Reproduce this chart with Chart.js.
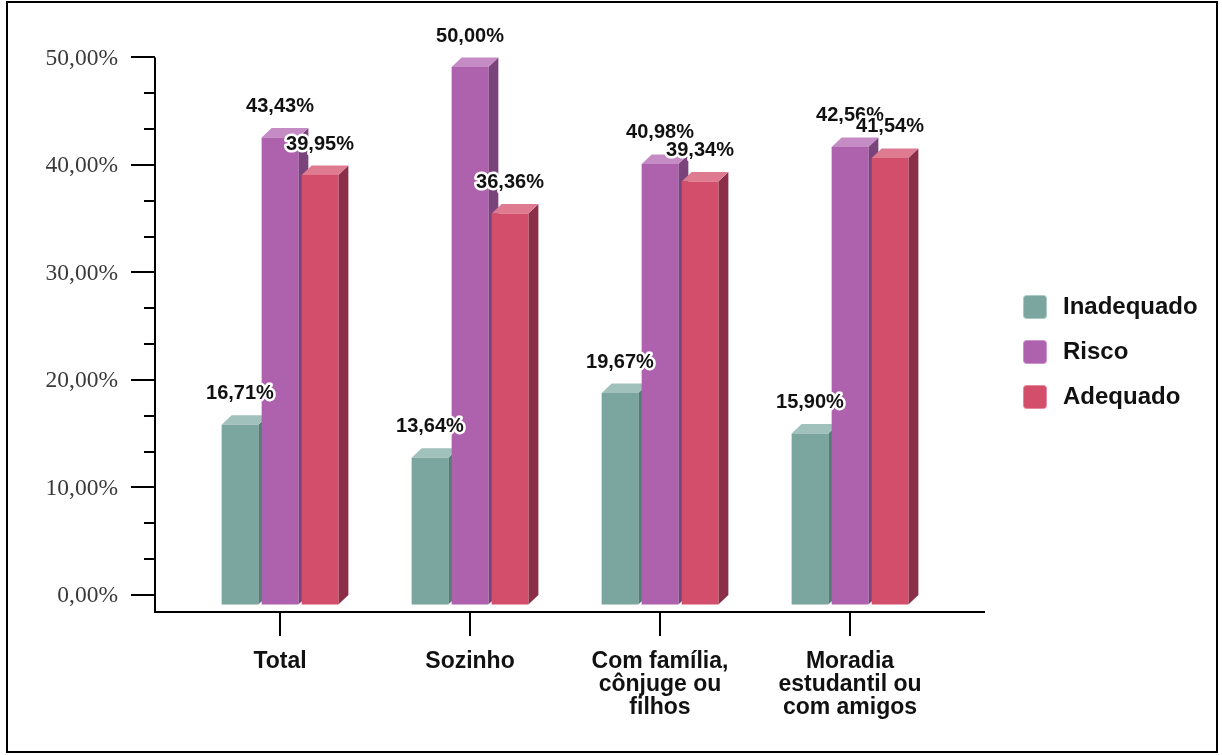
<!DOCTYPE html>
<html lang="pt">
<head>
<meta charset="utf-8">
<title>Inadequado, Risco e Adequado por tipo de moradia</title>
<script src="https://cdn.jsdelivr.net/npm/chart.js@4.4.1/dist/chart.umd.min.js"></script>
<style>
  html, body { margin: 0; padding: 0; background: #fff; }
  #wrap { position: relative; width: 1222px; height: 755px; overflow: hidden; }
  #c { position: absolute; left: 0; top: 0; }
  #frame { position: absolute; left: 6px; top: 1px; width: 1212px; height: 752px;
           border: 2px solid #000; box-sizing: border-box; pointer-events: none; }
</style>
</head>
<body>
<div id="wrap">
  <canvas id="c" width="1222" height="755"></canvas>
  <div id="frame"></div>
</div>
<script>
// Categories (multi-line axis labels)
const categories = [
  ['Total'],
  ['Sozinho'],
  ['Com família,', 'cônjuge ou', 'filhos'],
  ['Moradia', 'estudantil ou', 'com amigos']
];

// Series values (%)
const inadequado = [16.71, 13.64, 19.67, 15.90];
const risco      = [43.43, 50.00, 40.98, 42.56];
const adequado   = [39.95, 36.36, 39.34, 41.54];

const seriesNames = ['Inadequado', 'Risco', 'Adequado'];

// Labelled ticks on the value axis (%), each major step split in thirds by minor ticks
const yTickValues = [0, 10, 20, 30, 40, 50];
const minorPerMajor = 3;

// Face colours for the extruded bars
const palette = [
  { front: '#7BA6A0', top: '#A0C1BC', side: '#557D78', edge: '#A9CBC6' },
  { front: '#AE62AE', top: '#C48BC4', side: '#7A437B', edge: '#CB93CB' },
  { front: '#D34E6B', top: '#DF7B90', side: '#8A2F47', edge: '#E58A9E' }
];

// Oblique depth of the bars
const DEPTH_X = 10;
const DEPTH_Y = 9.5;

const SANS = "'Liberation Sans', Arial, Helvetica, sans-serif";
const SERIF = "'Liberation Serif', 'Times New Roman', serif";

const fmtPct = v => v.toFixed(2).replace('.', ',') + '%';

// Side and top faces, drawn before the library paints the front faces
const extrudePlugin = {
  id: 'extrude',
  beforeDatasetsDraw(chart) {
    const ctx = chart.ctx;
    ctx.save();
    chart.data.datasets.forEach((ds, di) => {
      const pal = palette[di];
      chart.getDatasetMeta(di).data.forEach(bar => {
        const { x, y, base, width } = bar.getProps(['x', 'y', 'base', 'width'], true);
        const l = x - width / 2, r = x + width / 2;
        ctx.fillStyle = pal.side;
        ctx.beginPath();
        ctx.moveTo(r, y);
        ctx.lineTo(r + DEPTH_X, y - DEPTH_Y);
        ctx.lineTo(r + DEPTH_X, base - DEPTH_Y);
        ctx.lineTo(r, base);
        ctx.closePath();
        ctx.fill();
        ctx.fillStyle = pal.top;
        ctx.beginPath();
        ctx.moveTo(l, y);
        ctx.lineTo(l + DEPTH_X, y - DEPTH_Y);
        ctx.lineTo(r + DEPTH_X, y - DEPTH_Y);
        ctx.lineTo(r, y);
        ctx.closePath();
        ctx.fill();
      });
    });
    ctx.restore();
  },
  afterDatasetsDraw(chart) {
    // value labels with a white halo
    const ctx = chart.ctx;
    ctx.save();
    ctx.font = 'bold 20px ' + SANS;
    ctx.textAlign = 'center';
    ctx.textBaseline = 'middle';
    ctx.lineJoin = 'round';
    chart.data.datasets.forEach((ds, di) => {
      chart.getDatasetMeta(di).data.forEach((bar, i) => {
        const { x, y } = bar.getProps(['x', 'y'], true);
        const txt = fmtPct(ds.data[i]);
        const ty = y - 31;
        ctx.strokeStyle = '#fff';
        ctx.lineWidth = 5;
        ctx.strokeText(txt, x, ty);
        ctx.fillStyle = '#111';
        ctx.fillText(txt, x, ty);
      });
    });
    ctx.restore();
  }
};

// Value axis on the back plane plus the floor line and the legend
const axesPlugin = {
  id: 'axesAndLegend',
  afterDraw(chart) {
    const ctx = chart.ctx;
    const ys = chart.scales.y;
    const area = chart.chartArea;
    const axisX = area.left - 30;
    const backY = v => ys.getPixelForValue(v) - DEPTH_Y;
    const top = backY(yTickValues[yTickValues.length - 1]);

    ctx.save();
    ctx.strokeStyle = '#000';
    ctx.lineWidth = 2;
    ctx.beginPath();
    ctx.moveTo(axisX, top);
    ctx.lineTo(axisX, area.bottom);
    ctx.lineTo(area.right + 40, area.bottom);
    ctx.stroke();

    // major and minor ticks
    const step = yTickValues[1] - yTickValues[0];
    for (let j = 0; j < yTickValues.length; j++) {
      const v = yTickValues[j];
      const py = Math.round(backY(v));
      ctx.beginPath();
      ctx.moveTo(axisX - 24, py);
      ctx.lineTo(axisX, py);
      ctx.stroke();
      if (j < yTickValues.length - 1) {
        for (let k = 1; k < minorPerMajor; k++) {
          const my = Math.round(backY(v + step * k / minorPerMajor));
          ctx.beginPath();
          ctx.moveTo(axisX - 11, my);
          ctx.lineTo(axisX, my);
          ctx.stroke();
        }
      }
    }

    ctx.fillStyle = '#3a3a3a';
    ctx.font = '23.5px ' + SERIF;
    ctx.textAlign = 'right';
    ctx.textBaseline = 'middle';
    yTickValues.forEach(v => ctx.fillText(fmtPct(v), axisX - 37, backY(v) + 1));

    // legend
    const lx = 1023, ly = 295, gap = 45, box = 24;
    chart.data.datasets.forEach((ds, di) => {
      const by = ly + di * gap;
      ctx.fillStyle = palette[di].front;
      ctx.strokeStyle = palette[di].edge;
      ctx.lineWidth = 1;
      ctx.beginPath();
      ctx.roundRect(lx + 0.5, by + 0.5, box - 1, box - 1, 3);
      ctx.fill();
      ctx.stroke();
      ctx.fillStyle = '#111';
      ctx.font = 'bold 24px ' + SANS;
      ctx.textAlign = 'left';
      ctx.textBaseline = 'middle';
      ctx.fillText(ds.label, lx + 40, by + box / 2);
    });
    ctx.restore();
  }
};

const seriesValues = [inadequado, risco, adequado];

new Chart(document.getElementById('c'), {
  type: 'bar',
  data: {
    labels: categories,
    datasets: seriesNames.map((name, i) => ({
      label: name,
      data: seriesValues[i],
      backgroundColor: palette[i].front,
      borderWidth: 0,
      categoryPercentage: 0.632,
      barPercentage: 0.917
    }))
  },
  options: {
    responsive: false,
    devicePixelRatio: 1,
    animation: false,
    layout: { padding: { left: 185, right: 277, top: 45.5, bottom: 0 } },
    plugins: { legend: { display: false }, tooltip: { enabled: false } },
    scales: {
      x: {
        grid: {
          display: true, drawOnChartArea: false, drawTicks: true,
          tickLength: 24, offset: false, color: '#000', lineWidth: 2
        },
        border: { display: false },
        ticks: {
          color: '#111', padding: 14, maxRotation: 0, autoSkip: false,
          font: { family: SANS, size: 23, weight: 'bold', lineHeight: 1 }
        },
        afterFit(scale) { scale.height = 143; }
      },
      y: {
        display: false,
        min: -0.7,
        max: 52
      }
    }
  },
  plugins: [extrudePlugin, axesPlugin]
});
</script>
</body>
</html>
